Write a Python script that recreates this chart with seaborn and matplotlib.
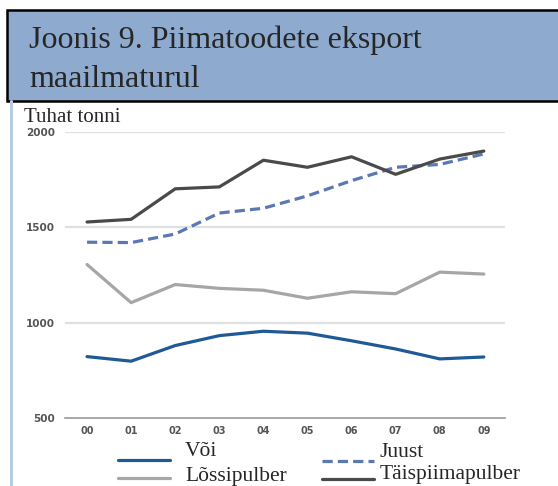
import numpy as np
import pandas as pd
import seaborn as sns
import matplotlib.pyplot as plt
from matplotlib.patches import Rectangle
from matplotlib.lines import Line2D

# data (thousand tonnes)
years = ["00", "01", "02", "03", "04", "05", "06", "07", "08", "09"]
voi = [822, 798, 880, 932, 955, 945, 905, 862, 810, 820]
juust = [1422, 1420, 1465, 1575, 1600, 1665, 1745, 1815, 1830, 1885]
lossipulber = [1305, 1105, 1200, 1180, 1170, 1128, 1162, 1152, 1265, 1255]
taispiimapulber = [1528, 1542, 1702, 1712, 1852, 1815, 1870, 1778, 1858, 1900]

df = pd.DataFrame({
    "x": np.arange(len(years)),
    "Või": voi,
    "Juust": juust,
    "Lõssipulber": lossipulber,
    "Täispiimapulber": taispiimapulber,
})

sns.set_style("white")
plt.rcParams["font.family"] = ["DejaVu Sans"]

W, H = 558, 486
fig = plt.figure(figsize=(W / 100, H / 100), dpi=100)


def fx(px):
    return px / W


def fy(py):
    return 1 - py / H


# title box
fig.patches.append(Rectangle((fx(7), fy(101)), fx(560), 91 / H,
                             transform=fig.transFigure, facecolor="#8eaacf",
                             edgecolor="black", linewidth=1.8, zorder=0))
# light blue left border of the panel
fig.add_artist(Line2D([fx(11), fx(11)], [0, fy(101)], transform=fig.transFigure,
                      color="#b7cce3", linewidth=2.2))

serif = "Liberation Serif"
fig.text(fx(29), fy(48), "Joonis 9. Piimatoodete eksport", fontsize=23,
         family=serif, va="baseline", ha="left")
fig.text(fx(29), fy(87), "maailmaturul", fontsize=23,
         family=serif, va="baseline", ha="left")
fig.text(fx(24), fy(122), "Tuhat tonni", fontsize=15,
         family=serif, va="baseline", ha="left")

ax = fig.add_axes([fx(65), 68 / H, 440 / W, 286 / H])

styles = {
    "Või": dict(color="#1f5a96", linestyle="-"),
    "Juust": dict(color="#5a78b4", linestyle=(0, (3.2, 1.6))),
    "Lõssipulber": dict(color="#a6a6a6", linestyle="-"),
    "Täispiimapulber": dict(color="#4a4a4a", linestyle="-"),
}
for name, st in styles.items():
    sns.lineplot(data=df, x="x", y=name, ax=ax, linewidth=2.3, legend=False, **st)

ax.set_xlim(-0.5, 9.48)
ax.set_ylim(500, 2000)
ax.set_yticks([500, 1000, 1500, 2000])
ax.set_xticks(df["x"])
ax.set_xticklabels(years)
ax.set_xlabel("")
ax.set_ylabel("")

for y in [1000, 1500, 2000]:
    ax.axhline(y, color="#e0e0e0", linewidth=1.6, zorder=0)

for s in ["top", "right", "left"]:
    ax.spines[s].set_visible(False)
ax.spines["bottom"].set_color("#9a9a9a")
ax.spines["bottom"].set_linewidth(1.2)

ax.tick_params(axis="x", direction="in", length=5, width=1, color="#9a9a9a",
               labelsize=7, labelcolor="#555555", pad=6)
ax.tick_params(axis="y", length=0, labelsize=7.5, labelcolor="#555555", pad=7)
for lab in ax.get_xticklabels() + ax.get_yticklabels():
    lab.set_fontweight("bold")

# legend below the plot, two columns
legend_items = [
    ("Või", 118, 460, 185, 456),
    ("Lõssipulber", 118, 478, 185, 481),
    ("Juust", 322, 461, 380, 457),
    ("Täispiimapulber", 322, 479, 380, 479),
]
for name, hx, hy, tx, ty in legend_items:
    fig.add_artist(Line2D([fx(hx), fx(hx + 52)], [fy(hy), fy(hy)],
                          transform=fig.transFigure, linewidth=2.3, **styles[name]))
    fig.text(fx(tx), fy(ty), name, fontsize=15.5, family=serif,
             va="baseline", ha="left")

fig.savefig("out.png", dpi=100)
